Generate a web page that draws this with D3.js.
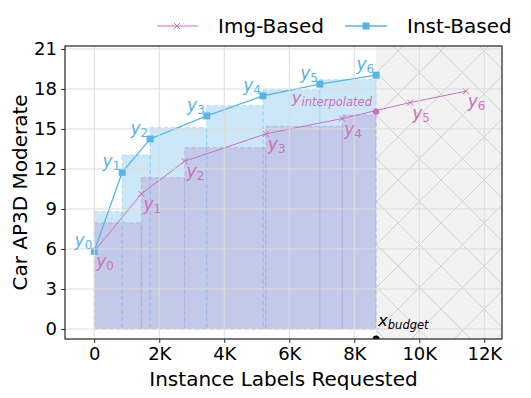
<!DOCTYPE html>
<html><head><meta charset="utf-8">
<script src="https://cdn.jsdelivr.net/npm/d3@7"></script>
<style>body{margin:0;background:#fff}svg{display:block}text{font-family:"DejaVu Sans",sans-serif}</style>
</head><body><svg id="c" width="531" height="398"></svg>
<script>
// ---- data ----
const instX = [0, 860, 1720, 3460, 5190, 6940, 8670];
const instY = [5.83, 11.75, 14.25, 15.98, 17.48, 18.36, 19.03];
const instBarH = [8.8, 13.05, 15.1, 16.75, 17.93, 18.7];
const imgX = [0, 1450, 2780, 5280, 7630, 9720, 11430];
const imgY = [5.83, 10.13, 12.58, 14.63, 15.78, 16.98, 17.83];
const imgBarEdges = [0, 1450, 2780, 5280, 7630, 8670];
const imgBarH = [7.97, 11.35, 13.6, 15.2, 16.05];
const budgetX = 8670;
const interpY = 16.3;
const xTicks = [0, 2000, 4000, 6000, 8000, 10000, 12000];
const xTickLabels = ["0", "2K", "4K", "6K", "8K", "10K", "12K"];
const yTicks = [0, 3, 6, 9, 12, 15, 18, 21];
const seriesNames = ["Img-Based", "Inst-Based"];

const BLUE = "#56B4E9", PINK = "#CC6FBF";
const L = 65, R = 502, T = 46, B = 339;
const svg = d3.select("#c");
const x = d3.scaleLinear().domain([-900, 12545]).range([L, R]);
const y = d3.scaleLinear().domain([-0.75, 21.22]).range([B, T]);

const defs = svg.append("defs");
defs.append("clipPath").attr("id", "clip").append("rect")
  .attr("x", L).attr("y", T).attr("width", R - L).attr("height", B - T);
const P = 43;
const pat = defs.append("pattern").attr("id", "hatch").attr("patternUnits", "userSpaceOnUse")
  .attr("width", P).attr("height", P).attr("x", 398 % P).attr("y", 180 % P);
pat.append("rect").attr("width", P).attr("height", P).attr("fill", "#f2f2f2");
pat.append("path").attr("d", `M0,0L${P},${P}M${P},0L0,${P}`)
  .attr("stroke", "#d2d2d2").attr("stroke-width", 1).attr("fill", "none");

const g = svg.append("g").attr("clip-path", "url(#clip)");
// hatched region beyond budget
g.append("rect").attr("x", x(budgetX)).attr("y", T).attr("width", R - x(budgetX)).attr("height", B - T)
  .attr("fill", "url(#hatch)");

// grid
svg.append("g").selectAll("line").data(xTicks).join("line")
  .attr("x1", d => x(d)).attr("x2", d => x(d)).attr("y1", T).attr("y2", B)
  .attr("stroke", "#dcdcdc").attr("stroke-width", 1);
svg.append("g").selectAll("line").data(yTicks).join("line")
  .attr("x1", L).attr("x2", R).attr("y1", d => y(d)).attr("y2", d => y(d))
  .attr("stroke", "#dcdcdc").attr("stroke-width", 1);

// bars (inst)
g.append("g").selectAll("rect").data(instBarH).join("rect")
  .attr("x", (d, i) => x(instX[i])).attr("width", (d, i) => x(instX[i + 1]) - x(instX[i]))
  .attr("y", d => y(d)).attr("height", d => y(0) - y(d))
  .attr("fill", BLUE).attr("fill-opacity", 0.3)
  .attr("stroke", BLUE).attr("stroke-opacity", 0.35).attr("stroke-dasharray", "4,3").attr("stroke-width", 1);
// bars (img)
g.append("g").selectAll("rect").data(imgBarH).join("rect")
  .attr("x", (d, i) => x(imgBarEdges[i])).attr("width", (d, i) => x(imgBarEdges[i + 1]) - x(imgBarEdges[i]))
  .attr("y", d => y(d)).attr("height", d => y(0) - y(d))
  .attr("fill", "#b28fca").attr("fill-opacity", 0.35)
  .attr("stroke", "#a88cc8").attr("stroke-opacity", 0.4).attr("stroke-dasharray", "4,3").attr("stroke-width", 1);

// lines
const line = d3.line().x(d => x(d[0])).y(d => y(d[1]));
const instPts = instX.map((v, i) => [v, instY[i]]);
const imgPts = imgX.map((v, i) => [v, imgY[i]]);
g.append("path").attr("d", line(imgPts)).attr("fill", "none").attr("stroke", PINK).attr("stroke-width", 1);
g.append("path").attr("d", line(instPts)).attr("fill", "none").attr("stroke", BLUE).attr("stroke-width", 1.3);

function xMark(sel, cx, cy, s, color) {
  sel.append("path").attr("d", `M${cx - s},${cy - s}L${cx + s},${cy + s}M${cx - s},${cy + s}L${cx + s},${cy - s}`)
    .attr("stroke", color).attr("stroke-width", 1).attr("fill", "none");
}
imgPts.forEach(p => xMark(g, x(p[0]), y(p[1]), 3, PINK));
g.selectAll("rect.sq").data(instPts).join("rect").attr("class", "sq")
  .attr("x", d => x(d[0]) - 3.5).attr("y", d => y(d[1]) - 3.5).attr("width", 7).attr("height", 7)
  .attr("fill", BLUE);
g.append("circle").attr("cx", x(budgetX)).attr("cy", y(interpY)).attr("r", 3.2).attr("fill", PINK);
g.append("circle").attr("cx", x(budgetX)).attr("cy", B).attr("r", 3.5).attr("fill", "#000");

// annotation labels
function mathLabel(px, py, sub, color, anchor, size) {
  const t = svg.append("text").attr("x", px).attr("y", py).attr("fill", color)
    .attr("font-size", size).attr("text-anchor", anchor).attr("font-style", "italic");
  t.append("tspan").text("y");
  t.append("tspan").attr("font-size", size * 0.7).attr("dy", 3).attr("font-style", sub.match(/^\d+$/) ? "normal" : "italic").text(sub);
  return t;
}
instPts.forEach((p, i) => mathLabel(x(p[0]) - 2, y(p[1]) - 5, String(i), BLUE, "end", 17));
imgPts.forEach((p, i) => mathLabel(x(p[0]) + 2, y(p[1]) + 16, String(i), PINK, "start", 17));
mathLabel(x(budgetX) - 4, y(interpY) - 9, "interpolated", PINK, "end", 16.5);
{
  const t = svg.append("text").attr("x", x(budgetX) + 2).attr("y", 326).attr("font-size", 16.5).attr("font-style", "italic").attr("fill", "#000");
  t.append("tspan").text("x");
  t.append("tspan").attr("font-size", 11.5).attr("dy", 3).text("budget");
}

// axes
const xa = svg.append("g").attr("transform", `translate(0,${B})`)
  .call(d3.axisBottom(x).tickValues(xTicks).tickFormat((d, i) => xTickLabels[i]).tickSize(4).tickPadding(4));
const ya = svg.append("g").attr("transform", `translate(${L},0)`)
  .call(d3.axisLeft(y).tickValues(yTicks).tickSize(4).tickPadding(4));
[xa, ya].forEach(a => { a.select(".domain").remove(); a.selectAll("text").attr("font-size", 18).attr("fill", "#000").attr("font-family", "DejaVu Sans"); a.selectAll("line").attr("stroke", "#333"); });
svg.append("rect").attr("x", L).attr("y", T).attr("width", R - L).attr("height", B - T)
  .attr("fill", "none").attr("stroke", "#222").attr("stroke-width", 1.2);

svg.append("text").attr("x", (L + R) / 2).attr("y", 386).attr("text-anchor", "middle").attr("font-size", 20).text("Instance Labels Requested");
svg.append("text").attr("transform", `translate(27,${(T + B) / 2}) rotate(-90)`).attr("text-anchor", "middle").attr("font-size", 20).text("Car AP3D Moderate");

// legend
const lg = svg.append("g");
lg.append("line").attr("x1", 157).attr("x2", 198).attr("y1", 26).attr("y2", 26).attr("stroke", PINK).attr("stroke-width", 1);
xMark(lg, 177, 26, 3, PINK);
lg.append("text").attr("x", 218).attr("y", 33).attr("font-size", 20).text(seriesNames[0]);
lg.append("line").attr("x1", 345).attr("x2", 387).attr("y1", 26).attr("y2", 26).attr("stroke", BLUE).attr("stroke-width", 1.3);
lg.append("rect").attr("x", 362.5).attr("y", 22.5).attr("width", 7).attr("height", 7).attr("fill", BLUE);
lg.append("text").attr("x", 407).attr("y", 33).attr("font-size", 20).text(seriesNames[1]);
</script></body></html>
